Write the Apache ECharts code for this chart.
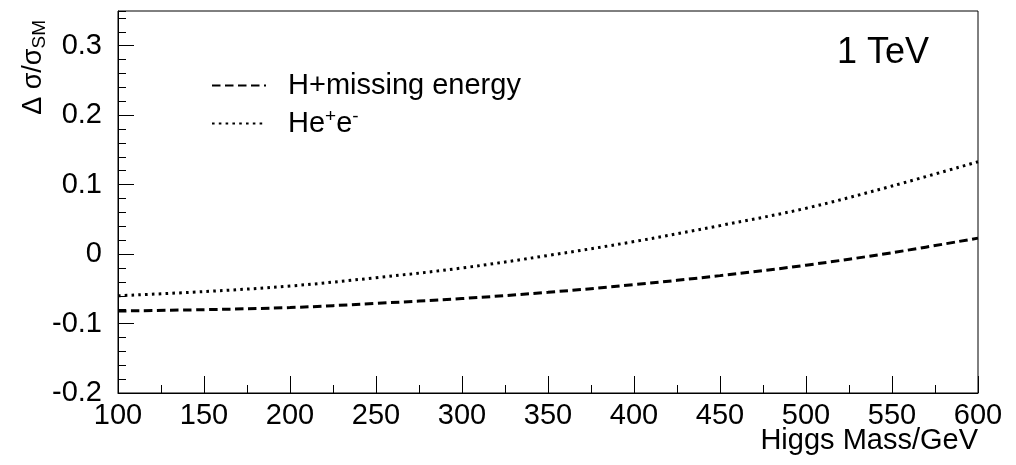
<!DOCTYPE html>
<html>
<head>
<meta charset="utf-8">
<script src="https://cdn.jsdelivr.net/npm/echarts@6/dist/echarts.min.js"></script>
<style>
  html, body { margin: 0; padding: 0; background: #fff; }
  #chart { width: 1016px; height: 465px; }
</style>
</head>
<body>
<div id="chart"></div>
<script>
// Higgs mass points (GeV) and relative cross-section shifts at 1 TeV
const higgsMass = [100, 150, 200, 250, 300, 350, 400, 450, 500, 550, 600];
const missingEnergy = [-0.082, -0.080, -0.077, -0.071, -0.064, -0.055, -0.044, -0.031, -0.016, 0.002, 0.023];
const heePair = [-0.060, -0.054, -0.046, -0.034, -0.020, -0.002, 0.018, 0.041, 0.066, 0.098, 0.133];
const yMajorTicks = [-0.2, -0.1, 0, 0.1, 0.2, 0.3];
const seriesNames = ['H+missing energy', 'He+e-'];

const FONT = 'Liberation Sans';
const chart = echarts.init(document.getElementById('chart'), null, { renderer: 'canvas' });

const pairs = (ys) => higgsMass.map((m, i) => [m, ys[i]]);

chart.setOption({
  animation: false,
  backgroundColor: '#fff',
  grid: {
    left: 118, right: 38, top: 11, bottom: 72,
    show: true, borderColor: '#000', borderWidth: 1, backgroundColor: 'transparent'
  },
  xAxis: {
    type: 'value', min: 100, max: 600, interval: 50,
    axisLine: { show: true, onZero: false, lineStyle: { color: '#000', width: 1 } },
    axisTick: { show: true, inside: true, length: 17, lineStyle: { color: '#000' } },
    minorTick: { show: true, splitNumber: 2, length: 8, lineStyle: { color: '#000' } },
    splitLine: { show: false },
    axisLabel: { color: '#000', fontFamily: FONT, fontSize: 29, margin: 8 }
  },
  yAxis: [
    {
      type: 'value', min: -0.2, max: 0.35, interval: 0.1,
      axisLine: { show: true, onZero: false, lineStyle: { color: '#000', width: 1 } },
      axisTick: { show: true, inside: true, length: 16, customValues: yMajorTicks, lineStyle: { color: '#000' } },
      splitLine: { show: false },
      axisLabel: {
        color: '#000', fontFamily: FONT, fontSize: 29, margin: 16,
        customValues: yMajorTicks,
        formatter: (v) => (Math.abs(v) < 1e-9 ? '0' : v.toFixed(1))
      }
    },
    {
      // minor ticks every 0.02
      type: 'value', min: -0.2, max: 0.35, interval: 0.02,
      position: 'left', offset: 0,
      axisLine: { show: false },
      axisTick: { show: true, inside: true, length: 8, lineStyle: { color: '#000' } },
      axisLabel: { show: false },
      splitLine: { show: false }
    }
  ],
  legend: {
    orient: 'vertical', left: 206, top: 66,
    itemWidth: 54, itemHeight: 14, itemGap: 7,
    data: seriesNames,
    itemStyle: { color: 'rgba(0,0,0,0)', borderColor: 'rgba(0,0,0,0)', borderWidth: 0 },
    formatter: (name) => name === 'He+e-'
      ? '{t|He}{sup|+}{t|e}{sup|-}'
      : '{t|' + name + '}',
    textStyle: {
      color: '#000', fontFamily: FONT, fontSize: 29, padding: [0, 0, 0, 17],
      rich: {
        t: { fontFamily: FONT, fontSize: 29, lineHeight: 33, color: '#000' },
        sup: { fontFamily: FONT, fontSize: 19, lineHeight: 19, verticalAlign: 'top', color: '#000' }
      }
    }
  },
  series: [
    {
      name: seriesNames[0], type: 'line', data: pairs(missingEnergy),
      symbol: 'none', smooth: 0.35, yAxisIndex: 0,
      lineStyle: { color: '#000', width: 3, type: [8.5, 4.5], cap: 'butt' },
      itemStyle: { color: '#000' }
    },
    {
      name: seriesNames[1], type: 'line', data: pairs(heePair),
      symbol: 'none', smooth: 0.35, yAxisIndex: 0,
      lineStyle: { color: '#000', width: 3, type: [2.6, 4.2], cap: 'butt' },
      itemStyle: { color: '#000' }
    }
  ],
  graphic: [
    {
      type: 'text', left: 837, top: 35,
      style: { text: '1 TeV', fontFamily: FONT, fontSize: 36, fill: '#000' }
    },
    {
      type: 'text', right: 38, top: 426,
      style: { text: 'Higgs Mass/GeV', fontFamily: FONT, fontSize: 29, fill: '#000', textAlign: 'right' }
    },
    {
      type: 'text', x: 34, y: 20, rotation: Math.PI / 2,
      style: {
        text: '{a|\u0394 \u03c3/\u03c3}{s|SM}',
        textAlign: 'right', textVerticalAlign: 'middle',
        rich: {
          a: { fontFamily: FONT, fontSize: 27, lineHeight: 30, fill: '#000' },
          s: { fontFamily: FONT, fontSize: 19, lineHeight: 30, verticalAlign: 'bottom', padding: [12, 0, 0, 0], fill: '#000' }
        }
      }
    }
  ]
});
</script>
</body>
</html>
